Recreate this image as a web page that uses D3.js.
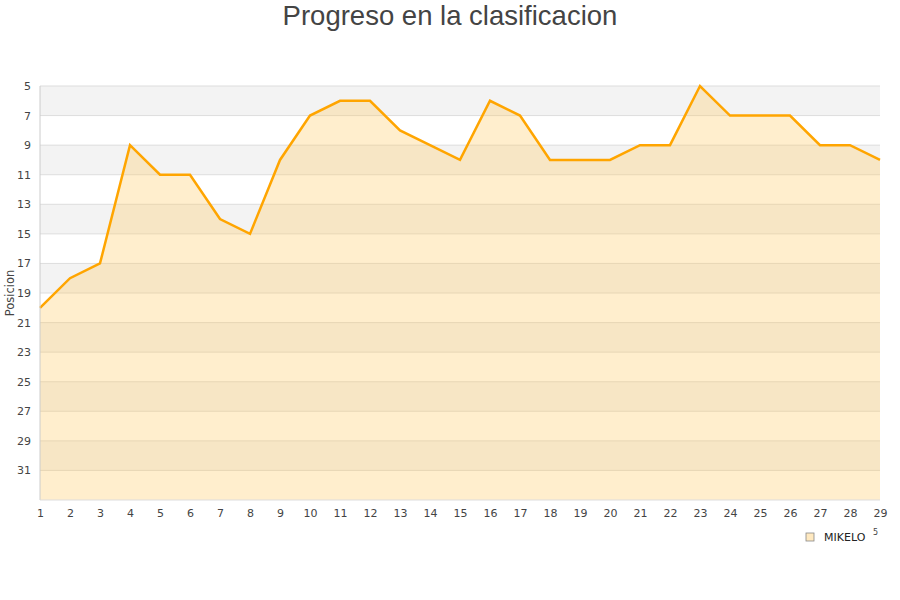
<!DOCTYPE html>
<html>
<head>
<meta charset="utf-8">
<script src="https://cdn.jsdelivr.net/npm/d3@7"></script>
<style>
  body { margin: 0; background: #fff; }
  svg text { font-family: "DejaVu Sans", sans-serif; }
</style>
</head>
<body>
<svg id="chart" width="900" height="600"></svg>
<script>
// jornadas and position of the player in each one
const jornadas  = d3.range(1, 30);
const posiciones = [20, 18, 17, 9, 11, 11, 14, 15, 10, 7, 6, 6, 8, 9, 10,
                    6, 7, 10, 10, 10, 9, 9, 5, 7, 7, 7, 9, 9, 10];
const yTicks = [5, 7, 9, 11, 13, 15, 17, 19, 21, 23, 25, 27, 29, 31];
const serie = "MIKELO";

const M = { left: 40, right: 880, top: 86, bottom: 500 };
const svg = d3.select("#chart");

const x = d3.scaleLinear().domain([1, 29]).range([M.left, M.right]);
const y = d3.scaleLinear().domain([5, 33]).range([M.top, M.bottom]);

// ── alternating bands ──
const bands = d3.range(5, 33, 2);
svg.append("g").selectAll("rect").data(bands).join("rect")
  .attr("x", M.left)
  .attr("y", d => y(d))
  .attr("width", M.right - M.left)
  .attr("height", d => y(d + 2) - y(d))
  .attr("fill", (d, i) => i % 2 === 0 ? "#f3f3f3" : "#ffffff");

// ── gridlines ──
svg.append("g").selectAll("line").data(yTicks).join("line")
  .attr("x1", M.left).attr("x2", M.right)
  .attr("y1", d => y(d)).attr("y2", d => y(d))
  .attr("stroke", "#dddddd").attr("stroke-width", 1);

// ── area + line ──
const pts = jornadas.map((j, i) => [j, posiciones[i]]);
svg.append("path")
  .datum(pts)
  .attr("fill", "rgba(255,204,102,0.33)")
  .attr("d", d3.area().x(d => x(d[0])).y0(y(33)).y1(d => y(d[1])));

svg.append("path")
  .datum(pts)
  .attr("fill", "none")
  .attr("stroke", "#ffa500")
  .attr("stroke-width", 2.5)
  .attr("d", d3.line().x(d => x(d[0])).y(d => y(d[1])));

// ── frame ──
svg.append("line")
  .attr("x1", M.left).attr("x2", M.left)
  .attr("y1", M.top).attr("y2", M.bottom)
  .attr("stroke", "#cccccc");
svg.append("line")
  .attr("x1", M.left).attr("x2", M.right)
  .attr("y1", M.bottom).attr("y2", M.bottom)
  .attr("stroke", "#dddddd");

// ── axes ──
const yAxis = svg.append("g")
  .attr("transform", `translate(${M.left},0)`)
  .call(d3.axisLeft(y).tickValues(yTicks).tickSize(0).tickPadding(9));
yAxis.select(".domain").remove();
yAxis.selectAll("text").attr("font-size", 11).attr("fill", "#444");

const xAxis = svg.append("g")
  .attr("transform", `translate(0,${M.bottom})`)
  .call(d3.axisBottom(x).tickValues(jornadas).tickFormat(d3.format("d"))
    .tickSize(0).tickPadding(9));
xAxis.select(".domain").remove();
xAxis.selectAll("text").attr("font-size", 11).attr("fill", "#444");

// ── titles ──
svg.append("text")
  .attr("x", 450).attr("y", 25)
  .attr("text-anchor", "middle")
  .attr("font-size", 27.5)
  .attr("fill", "#444")
  .style("font-family", "'Liberation Sans', Arial, sans-serif")
  .text("Progreso en la clasificacion");

svg.append("text")
  .attr("transform", "translate(14,293) rotate(-90)")
  .attr("text-anchor", "middle")
  .attr("font-size", 11.5)
  .attr("fill", "#444")
  .text("Posicion");

// ── legend ──
svg.append("rect")
  .attr("x", 806).attr("y", 533)
  .attr("width", 8).attr("height", 8)
  .attr("fill", "#ffe9c0")
  .attr("stroke", "#888").attr("stroke-width", 0.8);
svg.append("text")
  .attr("x", 824).attr("y", 541)
  .attr("font-size", 11)
  .attr("fill", "#222")
  .text(serie);
svg.append("text")
  .attr("x", 873).attr("y", 535)
  .attr("font-size", 8)
  .attr("fill", "#444")
  .text("5");
</script>
</body>
</html>
